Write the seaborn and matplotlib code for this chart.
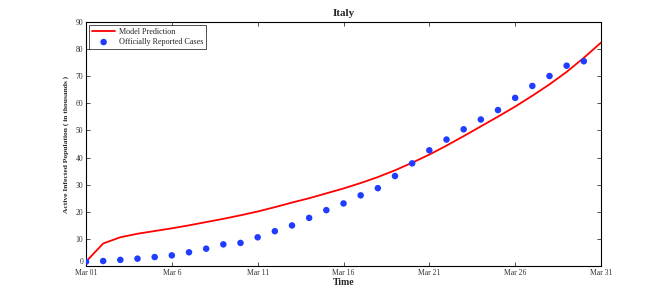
import numpy as np
import pandas as pd
import matplotlib
matplotlib.use("Agg")
import matplotlib.pyplot as plt
import seaborn as sns

# ---- data (thousands) ----
obs_day = list(range(30))
obs_cases = [1.58, 1.84, 2.26, 2.71, 3.30, 3.92, 5.06, 6.39, 7.98, 8.51,
             10.59, 12.84, 14.96, 17.75, 20.60, 23.07, 26.06, 28.71, 33.19, 37.86,
             42.68, 46.64, 50.42, 54.03, 57.52, 62.01, 66.41, 70.07, 73.88, 75.53]
model_day = list(range(31))
model_pred = [1.6, 8.3, 10.6, 11.9, 12.9, 13.9, 15.0, 16.2, 17.4, 18.7,
              20.1, 21.7, 23.4, 25.0, 26.8, 28.6, 30.6, 32.8, 35.3, 38.1,
              41.1, 44.4, 47.9, 51.5, 55.1, 58.8, 62.8, 67.0, 71.6, 76.8, 82.4]
tick_days = [0, 5, 10, 15, 20, 25, 30]
tick_labels = ["Mar 01", "Mar 6", "Mar 11", "Mar 16", "Mar 21", "Mar 26", "Mar 31"]

sns.set_theme(style="white")
plt.rcParams["font.family"] = ["Liberation Serif", "DejaVu Serif"]

fig = plt.figure(figsize=(6.64, 2.99), dpi=100)
ax = fig.add_axes([86/664, 33/299, (601-86)/664, (266-22)/299])

df_model = pd.DataFrame({"day": model_day, "val": model_pred})
df_obs = pd.DataFrame({"day": obs_day, "val": obs_cases})

sns.lineplot(data=df_model, x="day", y="val", ax=ax, color="#ff0000",
             linewidth=1.3, label="Model Prediction")
sns.scatterplot(data=df_obs, x="day", y="val", ax=ax, color="#1f3cff",
                s=22, edgecolor="none", label="Officially Reported Cases", zorder=3)

ax.set_xlim(0, 30)
ax.set_ylim(0, 90)
ax.set_xticks(tick_days)
ax.set_xticklabels(tick_labels)
ax.set_yticks(range(0, 91, 10))
ax.tick_params(direction="in", length=3, width=0.6, labelsize=5.5, pad=2,
               top=True, right=True, bottom=True, left=True, colors="#333333")
ax.get_yticklabels()[0].set_verticalalignment("bottom")
for s in ax.spines.values():
    s.set_color("black")
    s.set_linewidth(0.8)

ax.set_title("Italy", fontsize=8, fontweight="bold", pad=4)
ax.set_xlabel("Time", fontsize=7, fontweight="bold", labelpad=1)
ax.set_ylabel("Active Infected Population ( in thousands )", fontsize=5.4,
              fontweight="bold", labelpad=5)

leg = ax.legend(loc="upper left", fontsize=5.9, frameon=True, fancybox=False,
                borderpad=0.35, labelspacing=0.25, handlelength=2.8,
                handletextpad=0.5, borderaxespad=0.4)
leg.get_frame().set_edgecolor("black")
leg.get_frame().set_linewidth(0.6)

fig.savefig("out.png", dpi=100)
